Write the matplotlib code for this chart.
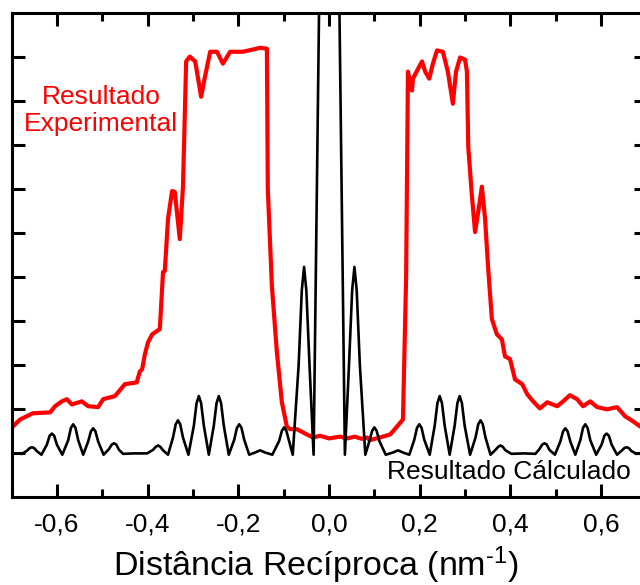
import matplotlib
matplotlib.use("Agg")
import matplotlib.pyplot as plt
from matplotlib.ticker import FixedLocator, FixedFormatter, NullFormatter

# fonte parecida com Arial
plt.rcParams['font.family'] = ['Liberation Sans', 'DejaVu Sans']
plt.rcParams['mathtext.fontset'] = 'custom'
plt.rcParams['mathtext.rm'] = 'Liberation Sans'
plt.rcParams['mathtext.it'] = 'Liberation Sans'

# ---- dados ----
# resultado experimental (vermelho)
exp_x = [-0.700, -0.699, -0.681, -0.653, -0.615, -0.604, -0.589, -0.578, -0.567, -0.545,
         -0.531, -0.509, -0.498, -0.472, -0.450, -0.424, -0.417, -0.412, -0.406, -0.399,
         -0.390, -0.373, -0.366, -0.362, -0.355, -0.346, -0.340, -0.329, -0.322, -0.315,
         -0.307, -0.295, -0.282, -0.273, -0.262, -0.247, -0.234, -0.218, -0.190, -0.168,
         -0.152, -0.137, -0.135, -0.126, -0.115, -0.104, -0.093, -0.086, -0.071, -0.049,
         -0.035, -0.020, 0.000, 0.024, 0.040, 0.057, 0.072, 0.084, 0.090, 0.112,
         0.135, 0.150, 0.163, 0.170, 0.174, 0.183, 0.185, 0.194, 0.205, 0.212,
         0.221, 0.229, 0.238, 0.251, 0.262, 0.273, 0.280, 0.289, 0.300, 0.304,
         0.307, 0.315, 0.322, 0.329, 0.337, 0.344, 0.351, 0.359, 0.370, 0.381,
         0.388, 0.399, 0.410, 0.426, 0.437, 0.450, 0.465, 0.481, 0.503, 0.516,
         0.531, 0.547, 0.560, 0.576, 0.591, 0.613, 0.635, 0.653, 0.670, 0.686, 0.700]
exp_y = [1.55, 1.59, 1.77, 1.91, 1.93, 2.07, 2.18, 2.23, 2.11, 2.18,
         2.07, 2.05, 2.23, 2.30, 2.57, 2.61, 2.86, 2.91, 3.25, 3.52,
         3.70, 3.82, 5.11, 5.14, 6.32, 6.95, 6.93, 5.86, 7.05, 9.89,
         10.00, 9.89, 9.09, 9.57, 10.11, 10.11, 9.84, 10.11, 10.11, 10.16,
         10.20, 10.18, 7.00, 4.80, 3.30, 2.16, 1.61, 1.55, 1.55, 1.43,
         1.36, 1.40, 1.34, 1.38, 1.34, 1.38, 1.33, 1.36, 1.30, 1.36,
         1.43, 1.61, 1.77, 5.02, 9.66, 9.23, 9.50, 9.68, 9.89, 9.66,
         9.50, 9.84, 10.14, 10.11, 9.66, 8.93, 9.66, 9.98, 9.93, 9.66,
         7.95, 6.84, 6.02, 6.48, 7.05, 6.32, 5.18, 4.05, 3.70, 3.59,
         3.20, 3.14, 2.68, 2.57, 2.34, 2.18, 2.02, 2.16, 2.07, 2.18,
         2.32, 2.23, 2.07, 2.18, 2.05, 2.00, 2.05, 1.84, 1.73, 1.61, 1.55]

# resultado calculado (preto)
calc_x = [-0.700, -0.677, -0.666, -0.660, -0.655, -0.650, -0.644, -0.634,
          -0.622, -0.616, -0.611, -0.606, -0.600, -0.588,
          -0.575, -0.569, -0.564, -0.559, -0.553, -0.542,
          -0.531, -0.525, -0.520, -0.515, -0.509, -0.497,
          -0.485, -0.479, -0.474, -0.469, -0.463, -0.454, -0.430, -0.401,
          -0.388, -0.382, -0.377, -0.372, -0.366, -0.355,
          -0.344, -0.338, -0.333, -0.328, -0.322, -0.310,
          -0.298, -0.292, -0.287, -0.282, -0.276, -0.265,
          -0.254, -0.248, -0.243, -0.238, -0.232, -0.221,
          -0.209, -0.203, -0.198, -0.193, -0.187, -0.176,
          -0.163, -0.152, -0.141, -0.125,
          -0.110, -0.104, -0.099, -0.094, -0.088, -0.080,
          -0.067, -0.060, -0.055, -0.050, -0.043, -0.034,
          -0.022, -0.012, 0.000, 0.012, 0.023, 0.035,
          0.044, 0.051, 0.056, 0.061, 0.068, 0.080,
          0.089, 0.095, 0.100, 0.105, 0.111, 0.125,
          0.141, 0.152, 0.163, 0.177,
          0.188, 0.194, 0.199, 0.204, 0.210, 0.222,
          0.233, 0.239, 0.244, 0.249, 0.255, 0.266,
          0.277, 0.283, 0.288, 0.293, 0.299, 0.311,
          0.323, 0.329, 0.334, 0.339, 0.345, 0.356,
          0.367, 0.373, 0.378, 0.383, 0.389, 0.402, 0.430, 0.455,
          0.464, 0.470, 0.475, 0.480, 0.486, 0.498,
          0.510, 0.516, 0.521, 0.526, 0.532, 0.543,
          0.554, 0.560, 0.565, 0.570, 0.576, 0.589,
          0.601, 0.607, 0.612, 0.617, 0.623, 0.635,
          0.645, 0.651, 0.656, 0.661, 0.667, 0.678, 0.700]
calc_y = [1.00, 0.99, 1.06, 1.12, 1.14, 1.12, 1.05, 0.97,
          1.20, 1.40, 1.45, 1.40, 1.20, 0.97,
          1.30, 1.58, 1.66, 1.58, 1.30, 0.97,
          1.27, 1.50, 1.57, 1.50, 1.27, 0.97,
          1.10, 1.20, 1.23, 1.20, 1.08, 0.99, 1.00, 1.00,
          1.08, 1.15, 1.18, 1.15, 1.07, 0.97,
          1.36, 1.66, 1.75, 1.66, 1.36, 0.97,
          1.63, 2.14, 2.30, 2.14, 1.63, 0.97,
          1.63, 2.14, 2.30, 2.14, 1.63, 0.97,
          1.31, 1.58, 1.66, 1.58, 1.31, 0.97,
          1.02, 1.07, 1.02, 0.97,
          1.28, 1.51, 1.59, 1.51, 1.28, 0.97,
          3.00, 4.70, 5.23, 4.70, 3.00, 0.97,
          11.0, 20.0, 24.0, 20.0, 11.0, 0.97,
          3.00, 4.70, 5.23, 4.70, 3.00, 0.97,
          1.28, 1.51, 1.59, 1.51, 1.28, 0.97,
          1.02, 1.07, 1.02, 0.97,
          1.31, 1.58, 1.66, 1.58, 1.31, 0.97,
          1.63, 2.14, 2.30, 2.14, 1.63, 0.97,
          1.63, 2.14, 2.30, 2.14, 1.63, 0.97,
          1.36, 1.66, 1.75, 1.66, 1.36, 0.97,
          1.08, 1.15, 1.18, 1.15, 1.07, 0.99, 1.00, 0.99,
          1.10, 1.20, 1.23, 1.20, 1.08, 0.97,
          1.27, 1.50, 1.57, 1.50, 1.27, 0.97,
          1.30, 1.58, 1.66, 1.58, 1.30, 0.97,
          1.20, 1.40, 1.45, 1.40, 1.20, 0.97,
          1.06, 1.12, 1.14, 1.12, 1.05, 0.99, 1.00]

xticks = [-0.6, -0.4, -0.2, 0.0, 0.2, 0.4, 0.6]
xtick_labels = ['-0,6', '-0,4', '-0,2', '0,0', '0,2', '0,4', '0,6']
xminor = [-0.7, -0.5, -0.3, -0.1, 0.1, 0.3, 0.5, 0.7]
yticks = [1, 2, 3, 4, 5, 6, 7, 8, 9, 10]

# ---- figura ----
fig = plt.figure(figsize=(6.4, 5.85), dpi=100)
ax = fig.add_axes([0.018, 0.1496, 0.9922, 0.829])

ax.plot(exp_x, exp_y, color='#ff0000', lw=3.0, zorder=2)
ax.plot(calc_x, calc_y, color='black', lw=1.9, zorder=3)

ax.set_xlim(-0.7, 0.7)
ax.set_ylim(0, 11)

ax.xaxis.set_major_locator(FixedLocator(xticks))
ax.xaxis.set_major_formatter(FixedFormatter(xtick_labels))
ax.xaxis.set_minor_locator(FixedLocator(xminor))
ax.yaxis.set_major_locator(FixedLocator(yticks))
ax.yaxis.set_major_formatter(NullFormatter())

for s in ax.spines.values():
    s.set_linewidth(2.2)
ax.tick_params(which='both', direction='in', top=True, right=True, width=2.2)
ax.tick_params(which='major', length=9.4, labelsize=19, pad=11)
ax.tick_params(which='minor', length=5.5)

# rótulo do eixo x com expoente em hífen
ax.set_xlabel(r'Distância Recíproca (nm$^{\text{-1}}$)', fontsize=24.5)
ax.xaxis.set_label_coords(0.479, -0.097)

ax.text(-0.502, 8.77, 'Resultado\nExperimental', color='#ff0000', fontsize=19,
        ha='center', va='center', linespacing=1.15)
ax.text(0.396, 0.57, 'Resultado Cálculado', color='black', fontsize=19,
        ha='center', va='center')

fig.savefig('out.png', dpi=100)
